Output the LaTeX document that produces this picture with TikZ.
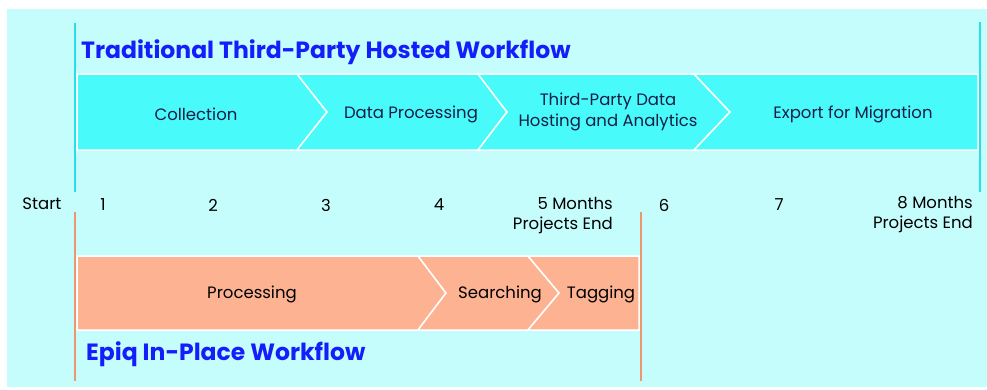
\documentclass[tikz,border=0pt]{standalone}
\usepackage{fontspec}
\setmainfont{Poppins}
\definecolor{bgcyan}{RGB}{196,253,252}
\definecolor{hostcyan}{RGB}{72,250,250}
\definecolor{hostline}{RGB}{40,222,232}
\definecolor{inpeach}{RGB}{253,178,146}
\definecolor{inline}{RGB}{238,150,112}
\definecolor{headblue}{RGB}{20,30,250}
\definecolor{navy}{RGB}{22,30,70}
\tikzset{
  plan/.style={x=1pt,y=-1pt,font=\fontsize{16.5}{20.5}\selectfont},
  hosted/.style={fill=hostcyan,draw=white,line width=1.5pt},
  inplace/.style={fill=inpeach,draw=white,line width=1.5pt},
  phase/.style={text=navy,align=center,inner sep=0pt},
  stage/.style={text=black,align=center,inner sep=0pt},
  month/.style={text=black,align=right,inner sep=0pt},
  heading/.style={text=headblue,anchor=west,inner sep=0pt,
    font=\fontsize{23.5}{28}\selectfont\bfseries},
  edge host/.style={draw=hostline,line width=1.5pt},
  edge inplace/.style={draw=inline,line width=1.5pt}
}

\begin{document}
\begin{tikzpicture}[plan]
  \useasboundingbox (0,0) rectangle (987,389);
  \fill[bgcyan] (7,9) rectangle (987,387);

  % traditional workflow
  \draw[edge host] (75,23) -- (75,192);
  \draw[edge host] (980,22) -- (980,192);
  \node[heading] (hosttitle) at (81,52) {Traditional Third-Party Hosted Workflow};
  \path[hosted] (77,74) -- (297,74) -- (327,112) -- (297,150) -- (77,150) -- cycle;
  \path[hosted] (297,74) -- (478,74) -- (507,112) -- (478,150) -- (297,150) -- (327,112) -- cycle;
  \path[hosted] (478,74) -- (694,74) -- (730,112) -- (694,150) -- (478,150) -- (507,112) -- cycle;
  \path[hosted] (694,74) -- (978,74) -- (978,150) -- (694,150) -- (730,112) -- cycle;
  \node[phase] (collect) at (196,114) {Collection};
  \node[phase] (dataproc) at (411,114) {Data Processing};
  \node[phase] (hosting) at (608,112) {Third-Party Data\\Hosting and Analytics};
  \node[phase] (export) at (853,114) {Export for Migration};

  % months
  \node[month] (start) at (42,204) {Start};
  \foreach \m/\x in {1/103,2/213,3/326,4/439,6/664,7/779}
    \node[month] (m\m) at (\x,205) {\m};
  \node[month,anchor=north east] (m5) at (613,197) {5 Months\\Projects End};
  \node[month,anchor=north east] (m8) at (973,196) {8 Months\\Projects End};

  % in-place workflow
  \draw[edge inplace] (75,212) -- (75,381);
  \draw[edge inplace] (641,212) -- (641,381);
  \path[inplace] (77,256) -- (418,256) -- (446,293) -- (418,330) -- (77,330) -- cycle;
  \path[inplace] (418,256) -- (528,256) -- (559,293) -- (528,330) -- (418,330) -- (446,293) -- cycle;
  \path[inplace] (528,256) -- (639,256) -- (639,330) -- (528,330) -- (559,293) -- cycle;
  \node[stage] (proc) at (252,294) {Processing};
  \node[stage] (search) at (500,294) {Searching};
  \node[stage] (tag) at (601,294) {Tagging};
  \node[heading] (inplacetitle) at (86,354) {Epiq In-Place Workflow};
\end{tikzpicture}
\end{document}
